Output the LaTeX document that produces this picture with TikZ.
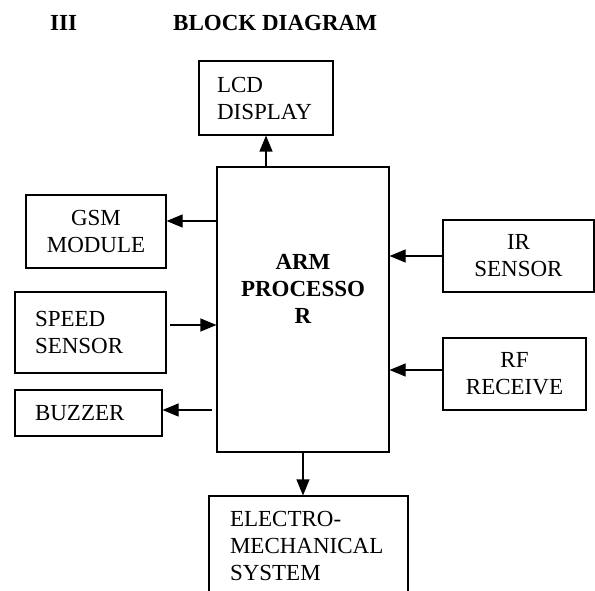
\documentclass[tikz,border=0pt]{standalone}
\usepackage{fontspec}
\setmainfont{Liberation Serif}
\usepackage{tikz}
\usetikzlibrary{arrows.meta, positioning, calc}

\newcommand{\bodyfont}{\fontsize{23}{27}\selectfont}

\tikzset{
  block/.style={draw, line width=1.2pt, inner sep=0pt, font=\bodyfont},
  lblock/.style={block, align=left},
  cblock/.style={block, align=center},
  arr/.style={-{Triangle[length=16pt,width=13pt]}, line width=1.2pt}
}

\begin{document}
\begin{tikzpicture}[x=1pt,y=-1pt]
\useasboundingbox (0,0) rectangle (595,591);

% 標題
\node[font=\bodyfont\bfseries, anchor=base west, inner sep=0pt] (sec) at (50,31) {III};
\node[font=\bodyfont\bfseries, anchor=base west, inner sep=0pt] (title) at (173,31) {BLOCK DIAGRAM};

% 中央處理器
\node[block, minimum width=172pt, minimum height=285pt] (arm) at (303,309.5) {};
\node[font=\bodyfont\bfseries, align=center, inner sep=0pt] (armtext) at (303,289) {ARM\\PROCESSO\\R};

% 方塊
\node[lblock, text width=98pt, inner xsep=18pt, minimum height=74pt] (lcd) at (266,98) {LCD\\DISPLAY};
\node[cblock, minimum width=140pt, minimum height=73pt] (gsm) at (96,231.5) {GSM\\MODULE};
\node[lblock, text width=111pt, inner xsep=20pt, minimum height=81pt] (speed) at (90.5,332.5) {SPEED\\SENSOR};
\node[lblock, text width=107pt, inner xsep=20pt, minimum height=46pt] (buzzer) at (88.5,413) {BUZZER};
\node[cblock, minimum width=151pt, minimum height=72pt] (ir) at (518.5,256) {IR\\SENSOR};
\node[cblock, minimum width=143pt, minimum height=72pt] (rf) at (514.5,374) {RF\\RECEIVE};
\node[lblock, text width=157pt, inner xsep=21pt, minimum height=100pt] (elec) at (308.5,546) {ELECTRO-\\MECHANICAL\\SYSTEM};

% 箭頭的高度
\coordinate (gsmrow) at (0,221);
\coordinate (speedrow) at (0,325);
\coordinate (buzzrow) at (0,410);
\coordinate (rfrow) at (0,370);

% 連線
\draw[arr] (arm.north -| lcd.south) -- (lcd.south);
\draw[arr] (arm.west |- gsmrow) -- (gsm.east |- gsmrow);
\draw[arr] ([xshift=3pt]speed.east |- speedrow) -- (arm.west |- speedrow);
\draw[arr] ([xshift=-4pt]arm.west |- buzzrow) -- (buzzer.east |- buzzrow);
\draw[arr] (ir.west) -- (arm.east |- ir.west);
\draw[arr] (rf.west |- rfrow) -- (arm.east |- rfrow);
\draw[arr] (arm.south) -- (arm.south |- elec.north);

\end{tikzpicture}
\end{document}
